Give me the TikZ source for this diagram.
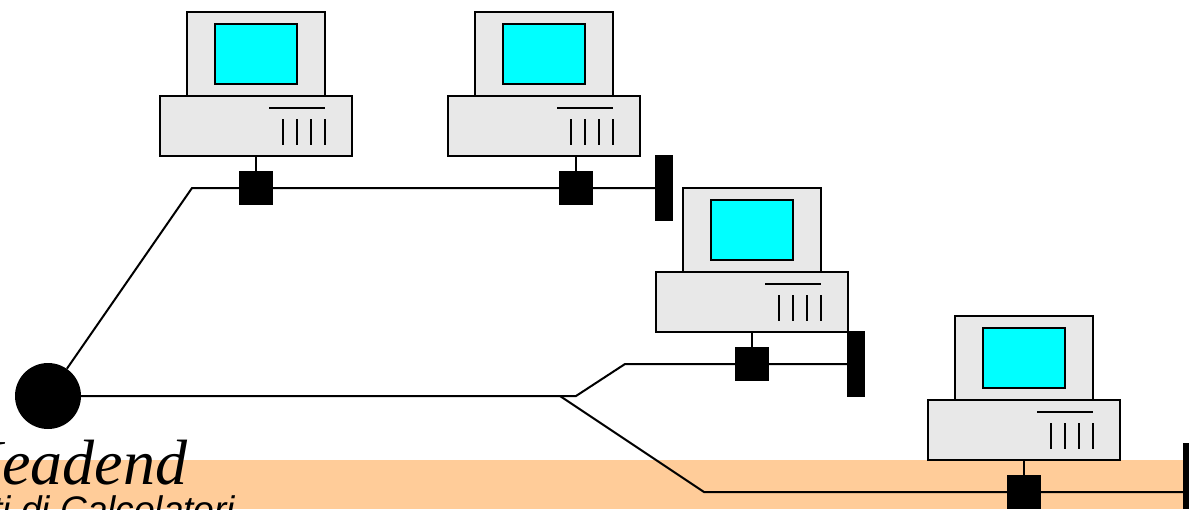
\documentclass[tikz,border=0pt]{standalone}
\usepackage{fontspec}
\setmainfont{Liberation Serif}
\newfontfamily\labelfont{Liberation Sans}
\definecolor{casing}{HTML}{E8E8E8}
\definecolor{band}{HTML}{FFCC99}
\definecolor{screen}{HTML}{00FFFF}
\tikzset{
  wire/.style={line width=2pt},
  casebox/.style={draw,line width=2pt,fill=casing},
  tapbox/.style={fill=black,inner sep=0pt,minimum size=34pt},
  endcap/.style={fill=black,inner sep=0pt,minimum width=18pt,minimum height=66pt}
}
\begin{document}
\begin{tikzpicture}[x=1pt,y=-1pt]
    \useasboundingbox (0,0) rectangle (1189,509);

    % band along the bottom
    \fill[band] (0,460) rectangle (1189,509);

    % 4 computers, each given by its offset
    \foreach \x/\y in {0/0,288/0,496/176,768/304} {
      \draw[casebox] (187+\x,12+\y) rectangle (325+\x,96+\y);
      \draw[line width=2pt,fill=screen] (215+\x,24+\y) rectangle (297+\x,84+\y);
      \draw[casebox] (160+\x,96+\y) rectangle (352+\x,156+\y);
      \draw[wire] (269+\x,108+\y) -- (325+\x,108+\y);
      \foreach \z in {283,297,311,325} {
        \draw[wire] (\z+\x,119+\y) -- (\z+\x,145+\y);
      }
    }

    \node[tapbox] (tap1) at (256,188) {};
    \node[tapbox] (tap2) at (576,188) {};
    \node[tapbox] (tap3) at (752,364) {};
    \node[tapbox] (tap4) at (1024,492) {};

    \node[endcap] (end1) at (664,188) {};
    \node[endcap] (end2) at (856,364) {};
    \node[endcap] (end3) at (1192,476) {};

    \node[circle,fill=black,inner sep=0pt,minimum size=66pt] (headend) at (48,396) {};

    \coordinate (bend1) at (192,188);
    \coordinate (bend2) at (576,396);
    \coordinate (bend3) at (625,364);
    \coordinate (split) at (560,396);
    \coordinate (bend4) at (704,492);

    % cables
    \draw[wire] (headend) -- (bend1) -- (tap1) -- (tap2) -- (end1);
    \draw[wire] (headend) -- (bend2) -- (bend3) -- (tap3) -- (end2);
    \draw[wire] (split) -- (bend4) -- (tap4) -- (tap4 -| end3.west);

    % stems up to the computers
    \coordinate (stem1) at (256,156);
    \coordinate (stem2) at (576,156);
    \coordinate (stem3) at (752,332);
    \coordinate (stem4) at (1024,460);
    \foreach \i in {1,2,3,4} {
      \draw[wire] (tap\i) -- (stem\i);
    }

    \node[anchor=base west,inner sep=0pt,font=\itshape\fontsize{64}{64}\selectfont] (title) at (-44,484) {Headend};
    \node[anchor=base west,inner sep=0pt,font=\labelfont\itshape\fontsize{37}{37}\selectfont] (course) at (-55,522) {Reti di Calcolatori};

\end{tikzpicture}
\end{document}
